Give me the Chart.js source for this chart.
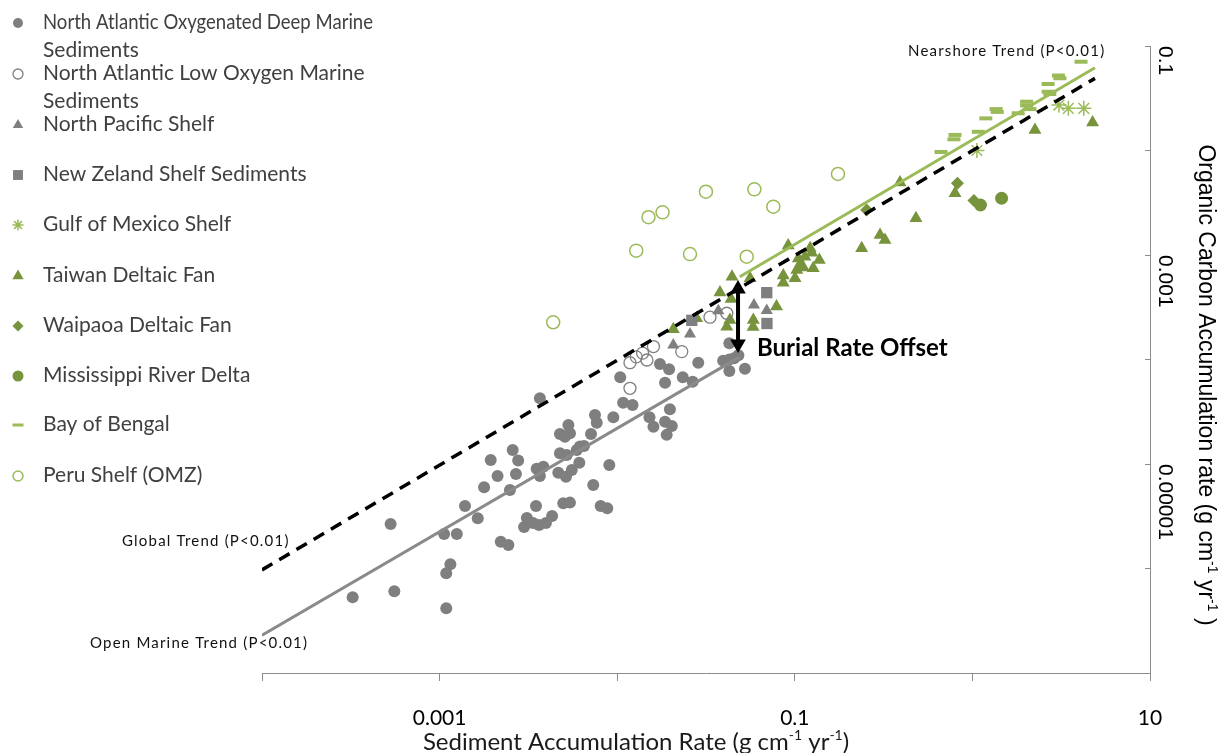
<!DOCTYPE html>
<html>
<head>
<meta charset="utf-8">
<script src="https://cdn.jsdelivr.net/npm/chart.js@4.4.2/dist/chart.umd.min.js"></script>
<style>
  html, body { margin: 0; padding: 0; background: #fff; }
  #wrap { position: relative; width: 1223px; height: 753px; }
</style>
</head>
<body>
<div id="wrap"><canvas id="chart" width="1223" height="753"></canvas></div>
<script>
// ---------- DATA ----------
const seriesNames = [
  ["North Atlantic Oxygenated Deep Marine", "Sediments"],
  ["North Atlantic Low Oxygen Marine", "Sediments"],
  ["North Pacific Shelf"],
  ["New Zeland Shelf Sediments"],
  ["Gulf of Mexico Shelf"],
  ["Taiwan Deltaic Fan"],
  ["Waipaoa Deltaic Fan"],
  ["Mississippi River Delta"],
  ["Bay of Bengal"],
  ["Peru Shelf (OMZ)"]
];

const oxyX = [3.24e-4, 5.56e-4, 5.30e-4, 1.09e-3, 1.09e-3, 1.15e-3, 1.06e-3, 1.25e-3, 1.39e-3, 1.64e-3,
  1.78e-3, 1.94e-3, 2.12e-3, 2.49e-3, 2.58e-3, 2.69e-3, 2.77e-3, 3.52e-3, 3.84e-3, 3.67e-3,
  3.49e-3, 3.67e-3, 2.21e-3, 2.44e-3, 2.99e-3, 3.10e-3, 3.36e-3, 3.63e-3, 3.97e-3, 4.30e-3,
  1.04e-2, 1.08e-2, 1.22e-2, 1.74e-2, 1.96e-2, 1.86e-2, 2.34e-2, 2.66e-2, 2.86e-2, 3.95e-2,
  4.28e-2, 4.55e-2, 4.81e-2, 4.28e-2, 4.28e-2, 5.24e-2, 1.98e-2, 9.51e-3, 7.50e-3, 7.67e-3,
  1.52e-2, 1.60e-2, 1.86e-2, 2.03e-2, 1.90e-2, 5.31e-3, 4.76e-3, 5.08e-3, 5.42e-3, 7.12e-3,
  6.17e-3, 6.50e-3, 5.92e-3, 4.76e-3, 5.20e-3, 9.03e-3, 6.12e-3, 4.66e-3, 5.15e-3, 5.55e-3,
  7.33e-3, 4.97e-3, 5.42e-3, 8.07e-3, 8.79e-3];
const oxyY = [5.30e-7, 6.05e-7, 2.67e-6, 4.16e-7, 9.0e-7, 1.10e-6, 2.14e-6, 2.14e-6, 3.96e-6, 3.02e-6,
  5.98e-6, 1.09e-5, 7.68e-6, 5.64e-6, 1.36e-5, 8.02e-6, 1.08e-5, 9.02e-6, 9.42e-6, 7.68e-6,
  3.96e-6, 4.25e-5, 1.80e-6, 1.68e-6, 2.49e-6, 3.04e-6, 2.72e-6, 2.61e-6, 2.72e-6, 3.18e-6,
  6.76e-5, 3.86e-5, 3.67e-5, 9.06e-5, 8.05e-5, 6.00e-5, 6.76e-5, 6.13e-5, 9.32e-5, 9.75e-5,
  1.00e-4, 1.03e-4, 1.10e-4, 1.43e-4, 7.76e-5, 8.17e-5, 3.34e-5, 2.80e-5, 2.94e-5, 2.48e-5,
  2.80e-5, 2.27e-5, 2.54e-5, 2.31e-5, 1.90e-5, 2.36e-5, 1.94e-5, 1.82e-5, 1.97e-5, 1.94e-5,
  1.47e-5, 1.49e-5, 1.36e-5, 1.27e-5, 1.22e-5, 9.78e-6, 1.03e-5, 8.26e-6, 7.56e-6, 8.77e-6,
  6.30e-6, 4.21e-6, 4.27e-6, 3.96e-6, 3.77e-6];

const lowOxX = [1.18e-2, 1.28e-2, 1.39e-2, 1.47e-2, 1.60e-2, 1.18e-2, 2.31e-2, 3.33e-2, 4.14e-2];
const lowOxY = [9.32e-5, 1.06e-4, 1.15e-4, 9.89e-5, 1.33e-4, 5.30e-5, 1.19e-4, 2.54e-4, 2.77e-4];

const pacificX = [2.07e-2, 2.57e-2, 3.71e-2, 5.89e-2, 6.95e-2];
const pacificY = [1.38e-4, 1.75e-4, 2.93e-4, 3.32e-4, 2.94e-4];

const zealandX = [6.95e-2, 6.97e-2, 2.63e-2];
const zealandY = [4.36e-4, 2.21e-4, 2.37e-4];

const gulfX = [1.06, 3.07, 3.47, 4.24];
const gulfY = [1.0e-2, 2.72e-2, 2.53e-2, 2.53e-2];

const taiwanX = [2.07e-2, 2.80e-2, 3.79e-2, 4.38e-2, 4.43e-2, 4.14e-2, 4.31e-2, 5.84e-2, 5.82e-2, 7.89e-2,
  5.60e-2, 8.61e-2, 8.61e-2, 9.18e-2, 0.1026, 0.1047, 0.107, 0.1117, 0.1003, 0.114,
  0.122, 0.1245, 0.1374, 0.127, 0.238, 0.302, 0.322, 0.481, 0.391, 0.798, 2.25, 4.75];
const taiwanY = [1.95e-4, 2.48e-4, 4.38e-4, 3.79e-4, 6.20e-4, 2.06e-4, 2.39e-4, 2.39e-4, 2.05e-4, 3.21e-4,
  5.98e-4, 6.37e-4, 5.43e-4, 1.23e-3, 7.18e-4, 9.26e-4, 8.11e-4, 7.59e-4, 5.98e-4, 9.63e-4,
  1.16e-3, 1.05e-3, 8.96e-4, 7.46e-4, 1.16e-3, 1.55e-3, 1.39e-3, 2.25e-3, 4.94e-3, 3.89e-3, 1.57e-2, 1.85e-2];

const waipaoaX = [0.254, 0.824, 1.02];
const waipaoaY = [2.70e-3, 4.85e-3, 3.32e-3];

const mississippiX = [1.11, 1.46];
const mississippiY = [3.01e-3, 3.49e-3];

const bengalX = [4.09, 3.05, 3.11, 2.67, 2.67, 2.73, 2.02, 2.02, 2.11, 1.81, 1.36, 1.38, 1.19, 1.08, 0.798, 0.787, 0.666];
const bengalY = [7.07e-2, 5.22e-2, 4.91e-2, 4.33e-2, 3.65e-2, 3.47e-2, 2.93e-2, 2.70e-2, 2.49e-2, 2.27e-2,
  2.49e-2, 2.34e-2, 2.03e-2, 1.51e-2, 1.41e-2, 1.28e-2, 9.68e-3];

const peruX = [4.36e-3, 1.28e-2, 1.50e-2, 1.80e-2, 2.57e-2, 3.16e-2, 5.36e-2, 5.92e-2, 7.57e-2, 0.175];
const peruY = [2.27e-4, 1.10e-3, 2.30e-3, 2.56e-3, 1.02e-3, 4.03e-3, 9.63e-4, 4.25e-3, 2.90e-3, 5.96e-3];

// trend lines (end points)
const openMarineX = [1e-4, 0.049];
const openMarineY = [2.3e-7, 1.06e-4];
const globalX = [1e-4, 4.9];
const globalY = [9.7e-7, 0.049];
const nearshoreX = [0.049, 4.9];
const nearshoreY = [6.2e-4, 0.062];

// burial rate offset arrow
const arrowX = [0.0479, 0.0479];
const arrowY = [4.73e-4, 1.41e-4];

// axes
const xTickValues = [1e-4, 1e-3, 1e-2, 1e-1, 1, 10];
const xTickLabels = ["0.001", "0.1", "10"];
const yTickValues = [1e-7, 1e-6, 1e-5, 1e-4, 1e-3, 1e-2, 1e-1];
const yTickLabels = ["0.1", "0.001", "0.00001"];

const xTitle = [["Sediment Accumulation Rate (g cm", 0], ["-1", 1], [" yr", 0], ["-1", 1], [")", 0]];
const yTitle = [["Organic Carbon Accumulation rate (g cm", 0], ["-1", 1], [" yr", 0], ["-1", 1], [" )", 0]];

// ---------- STYLE ----------
const GRAY  = "#7f7f7f";
const OLIVE = "#77933c";
const LIGHT = "#9bbb59";
const AXIS  = "#8c8c8c";

function pts(xs, ys) { return xs.map((x, i) => ({ x, y: ys[i] })); }

function markers(label, xs, ys, style, r, fill, stroke, bw) {
  return {
    label, data: pts(xs, ys),
    pointStyle: style, pointRadius: r, pointHoverRadius: r,
    backgroundColor: fill, borderColor: stroke, borderWidth: bw,
    pointBackgroundColor: fill, pointBorderColor: stroke, pointBorderWidth: bw,
    showLine: false, order: 5
  };
}

function trend(xs, ys, color, width, dash) {
  return {
    data: pts(xs, ys), showLine: true, pointRadius: 0, pointHoverRadius: 0,
    borderColor: color, borderWidth: width, borderDash: dash || [], order: 1
  };
}

const datasets = [
  markers(seriesNames[0], oxyX, oxyY, "circle", 6, GRAY, GRAY, 0),
  markers(seriesNames[1], lowOxX, lowOxY, "circle", 6, "rgba(0,0,0,0)", GRAY, 1.3),
  markers(seriesNames[2], pacificX, pacificY, "triangle", 7, GRAY, GRAY, 0),
  markers(seriesNames[3], zealandX, zealandY, "rect", 8, GRAY, GRAY, 0),
  markers(seriesNames[4], gulfX, gulfY, "star", 7.5, LIGHT, LIGHT, 1.5),
  markers(seriesNames[5], taiwanX, taiwanY, "triangle", 7.5, OLIVE, OLIVE, 0),
  markers(seriesNames[6], waipaoaX, waipaoaY, "rectRot", 6.5, OLIVE, OLIVE, 0),
  markers(seriesNames[7], mississippiX, mississippiY, "circle", 6.5, OLIVE, OLIVE, 0),
  markers(seriesNames[8], bengalX, bengalY, "line", 6.5, LIGHT, LIGHT, 4),
  markers(seriesNames[9], peruX, peruY, "circle", 6.5, "rgba(0,0,0,0)", LIGHT, 1.5),
  trend(openMarineX, openMarineY, "#8a8a8a", 3),
  trend(globalX, globalY, "#000", 3.5, [12, 8]),
  trend(nearshoreX, nearshoreY, LIGHT, 3),
  {
    data: pts(arrowX, arrowY), showLine: true, borderColor: "#000", borderWidth: 4,
    pointStyle: "triangle", pointRadius: 9, pointHoverRadius: 9, pointRotation: [0, 180],
    pointBackgroundColor: "#000", pointBorderWidth: 0, order: 0
  }
];

function tickLabel(labels) {
  return (v) => labels.find(l => Math.abs(Math.log10(parseFloat(l)) - Math.log10(v)) < 1e-6) || "";
}

// ---------- LEGEND + TEXT PLUGIN ----------
function richText(ctx, parts, size, supSize, family, x, y, center) {
  let w = 0;
  parts.forEach(([t, sup]) => {
    ctx.font = (sup ? supSize : size) + "px " + family;
    w += ctx.measureText(t).width;
  });
  let cx = center ? x - w / 2 : x;
  parts.forEach(([t, sup]) => {
    ctx.font = (sup ? supSize : size) + "px " + family;
    ctx.fillText(t, cx, sup ? y - size * 0.4 : y);
    cx += ctx.measureText(t).width;
  });
}

const overlay = {
  id: "overlay",
  afterDraw(chart) {
    const ctx = chart.ctx;
    const H = Chart.helpers || {};
    ctx.save();

    // legend
    const legendY = [23, 74, 125, 175, 225, 276, 326, 376, 425, 476];
    const legendR = [5, 5, 6, 7, 5.5, 6.5, 5.5, 5.5, 5.5, 5];
    chart.data.datasets.slice(0, 10).forEach((ds, i) => {
      const y = legendY[i];
      ctx.fillStyle = ds.backgroundColor;
      ctx.strokeStyle = ds.borderColor;
      ctx.lineWidth = ds.pointStyle === "line" ? 3 : ds.borderWidth;
      const opts = { pointStyle: ds.pointStyle, radius: legendR[i], rotation: 0,
                     borderWidth: ds.pointStyle === "line" ? 3 : ds.borderWidth };
      if (H.drawPoint) H.drawPoint(ctx, opts, 18, y);
      ctx.fillStyle = "#404040";
      ctx.font = "21px Lato";
      ctx.textBaseline = "middle";
      ctx.textAlign = "left";
      ds.label.forEach((line, k) => ctx.fillText(line, 43, y - 1 + k * 28, 330));
    });

    // trend annotations
    ctx.fillStyle = "#111";
    ctx.font = "15px Lato";
    ctx.letterSpacing = "1.2px";
    ctx.fillText("Nearshore Trend (P<0.01)", 908, 51);
    ctx.fillText("Global Trend (P<0.01)", 122, 541);
    ctx.fillText("Open Marine Trend (P<0.01)", 90, 643);
    ctx.letterSpacing = "0px";
    ctx.fillStyle = "#000";
    ctx.font = "bold 24px Lato";
    ctx.fillText("Burial Rate Offset", 757, 348);

    // axis titles
    ctx.textBaseline = "alphabetic";
    ctx.textAlign = "left";
    ctx.fillStyle = "#1a1a1a";
    richText(ctx, xTitle, 24, 14, "Lato", 636, 750, true);

    ctx.translate(1207, 385);
    ctx.rotate(Math.PI / 2);
    ctx.fillStyle = "#000";
    richText(ctx, yTitle, 23, 14, "'Liberation Sans'", 0, 8, true);
    ctx.restore();
  }
};

// ---------- CHART ----------
Chart.defaults.font.family = "Lato";

new Chart(document.getElementById("chart"), {
  type: "scatter",
  data: { datasets },
  plugins: [overlay],
  options: {
    responsive: false,
    animation: false,
    layout: { padding: { left: 262, top: 46, right: 0, bottom: 0 } },
    plugins: { legend: { display: false }, tooltip: { enabled: false } },
    scales: {
      x: {
        type: "logarithmic", position: "bottom", min: 1e-4, max: 10,
        afterBuildTicks: (s) => { s.ticks = xTickValues.map(v => ({ value: v })); },
        afterFit: (s) => { s.height = 80; },
        ticks: { autoSkip: false, maxRotation: 0, minRotation: 0, padding: 25,
                 color: "#000", font: { size: 21, family: "Lato" }, callback: tickLabel(xTickLabels) },
        grid: { display: true, drawOnChartArea: false, drawTicks: true, tickLength: 8, color: AXIS },
        border: { display: true, color: AXIS, width: 1 }
      },
      y: {
        type: "logarithmic", position: "right", min: 1e-7, max: 0.1,
        afterBuildTicks: (s) => { s.ticks = yTickValues.map(v => ({ value: v })); },
        afterFit: (s) => { s.width = 73; },
        ticks: { autoSkip: false, minRotation: -90, maxRotation: 90, padding: 20, crossAlign: "near",
                 color: "#000", font: { size: 21, family: "'Liberation Sans'" }, callback: tickLabel(yTickLabels) },
        grid: { display: true, drawOnChartArea: false, drawTicks: true, tickLength: -5, color: AXIS },
        border: { display: true, color: AXIS, width: 1 }
      }
    }
  }
});
</script>
</body>
</html>
